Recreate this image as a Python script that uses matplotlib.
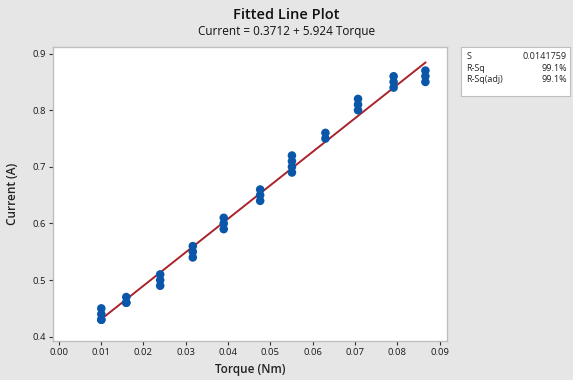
import matplotlib.pyplot as plt
import numpy as np

plt.rcParams['font.family'] = ['Open Sans', 'DejaVu Sans']

# torque groups (Nm) and the measured currents (A) at each
torque_levels = [0.0101, 0.0160, 0.0240, 0.0317, 0.0390, 0.0476, 0.0551, 0.0630, 0.0707, 0.0791, 0.0866]
current_groups = [
    [0.45, 0.44, 0.43, 0.43],
    [0.47, 0.46, 0.46],
    [0.51, 0.50, 0.49],
    [0.56, 0.55, 0.54],
    [0.61, 0.60, 0.59],
    [0.66, 0.65, 0.64],
    [0.72, 0.71, 0.70, 0.69],
    [0.76, 0.75],
    [0.82, 0.81, 0.80],
    [0.86, 0.85, 0.84],
    [0.87, 0.86, 0.85],
]
intercept = 0.3712
slope = 5.924
stats_names = ["S", "R-Sq", "R-Sq(adj)"]
stats_values = ["0.0141759", "99.1%", "99.1%"]

torque = np.concatenate([[t] * len(c) for t, c in zip(torque_levels, current_groups)])
current = np.concatenate(current_groups)

bg = "#e6e6e6"
fig = plt.figure(figsize=(5.73, 3.80), dpi=100, facecolor=bg)
ax = fig.add_axes([53 / 573, 1 - 341 / 380, 394 / 573, 294 / 380])
ax.set_facecolor("white")

xfit = np.array([min(torque_levels), max(torque_levels)])
ax.plot(xfit, intercept + slope * xfit, color="#a8232a", lw=1.4, zorder=2)
ax.scatter(torque, current, s=38, color="#0a56a8", edgecolors="none", zorder=3)

ax.set_xlim(-0.0013, 0.0917)
ax.set_ylim(0.3924, 0.9117)
ax.set_xticks(np.arange(0, 0.091, 0.01))
ax.set_xticklabels(["%.2f" % v for v in np.arange(0, 0.091, 0.01)])
ax.set_yticks([0.4, 0.5, 0.6, 0.7, 0.8, 0.9])
ax.set_yticklabels(["0.4", "0.5", "0.6", "0.7", "0.8", "0.9"])
ax.tick_params(labelsize=6.8, colors="#333333", length=3, width=0.8, pad=2)
for tl in ax.get_xticklabels() + ax.get_yticklabels():
    tl.set_color("#1a1a1a")
for s in ax.spines.values():
    s.set_color("#bfbfbf")
    s.set_linewidth(1)

ax.set_xlabel("Torque (Nm)", fontsize=8.5, fontweight="semibold", color="#222222", labelpad=4)
ax.set_ylabel("Current (A)", fontsize=8.5, fontweight="semibold", color="#222222", labelpad=10)

fig.text(0.5, 1 - 15 / 380, "Fitted Line Plot", ha="center", va="center", fontsize=10.5,
         fontweight="semibold", color="#111111")
fig.text(0.5, 1 - 31 / 380, "Current = %.4f + %.3f Torque" % (intercept, slope),
         ha="center", va="center", fontsize=8.5, fontweight="medium", color="#111111")

# statistics box
box = fig.add_axes([461 / 573, 1 - 96 / 380, 109 / 573, 49 / 380])
box.set_xticks([])
box.set_yticks([])
box.set_facecolor("white")
for s in box.spines.values():
    s.set_color("#bfbfbf")
for i, (n, v) in enumerate(zip(stats_names, stats_values)):
    y = 0.8 - i * 0.23
    box.text(0.05, y, n, fontsize=6.5, va="center", ha="left", color="#222222", transform=box.transAxes)
    box.text(0.97, y, v, fontsize=6.5, va="center", ha="right", color="#222222", transform=box.transAxes)

fig.savefig("out.png", facecolor=bg)
